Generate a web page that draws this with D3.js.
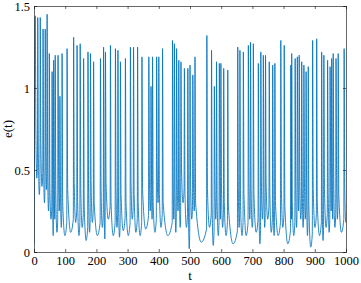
<!DOCTYPE html>
<html>
<head>
<meta charset="utf-8">
<script src="https://cdn.jsdelivr.net/npm/d3@7"></script>
<style>
  html, body { margin: 0; padding: 0; background: #fff; }
  #chart svg { display: block; }
  #chart text { font-family: "Liberation Serif", "DejaVu Serif", serif; }
</style>
</head>
<body>
<div id="chart"></div>
<script>
{
  // spike times and heights
  const peakT = [4, 12, 20, 29, 36, 42, 49, 58, 63, 68, 77, 83, 90, 106, 127, 138, 148, 159, 173, 181,
    191, 213, 223, 229, 245, 261, 269, 277, 293, 309, 319, 332, 346, 368, 375, 380, 393, 400, 412, 444,
    450, 457, 464, 471, 482, 493, 500, 509, 516, 554, 569, 578, 585, 594, 599, 608, 621, 653, 660, 671,
    687, 694, 703, 719, 727, 735, 742, 754, 765, 772, 791, 802, 823, 826, 837, 844, 850, 858, 865, 872,
    879, 893, 906, 922, 929, 941, 949, 954, 959, 968, 975, 994];
  const peakE = [1.44, 1.43, 1.43, 1.36, 1.36, 1.45, 1.21, 1.10, 1.17, 1.20, 1.20, 0.95, 1.21, 1.24, 1.31, 1.26, 1.27, 1.18, 1.22, 1.21,
    1.16, 1.18, 1.25, 1.22, 1.26, 1.24, 1.23, 1.16, 1.18, 1.25, 1.25, 1.25, 1.19, 1.19, 1.01, 1.19, 1.19, 1.19, 1.24, 1.29,
    1.27, 1.24, 1.17, 1.16, 1.12, 1.12, 1.14, 1.08, 1.19, 1.32, 1.23, 1.01, 1.16, 1.15, 1.15, 1.12, 1.11, 1.25, 1.23, 1.22,
    1.26, 1.28, 1.27, 1.15, 1.22, 1.20, 1.20, 1.16, 1.14, 1.15, 1.29, 1.26, 1.14, 1.21, 1.18, 1.19, 1.20, 1.16, 1.14, 1.10,
    1.13, 1.29, 1.30, 1.22, 1.20, 1.17, 1.13, 1.18, 1.21, 1.18, 1.21, 1.24];
  // level right after each spike falls
  const dipE = [0.75, 0.6, 0.65, 0.5, 0.55, 0.45, 0.38, 0.3, 0.42, 0.35, 0.45, 0.35, 0.3, 0.38, 0.42, 0.3, 0.38, 0.28, 0.35, 0.42,
    0.3, 0.38, 0.28, 0.42, 0.3, 0.38, 0.28, 0.35, 0.3, 0.42, 0.35, 0.3, 0.38, 0.45, 0.38, 0.3, 0.5, 0.35, 0.3, 0.42,
    0.35, 0.45, 0.38, 0.5, 0.35, 0.28, 0.42, 0.45, 0.3, 0.38, 0.28, 0.42, 0.3, 0.42, 0.38, 0.3, 0.28, 0.38, 0.3, 0.35,
    0.42, 0.38, 0.35, 0.28, 0.42, 0.38, 0.42, 0.35, 0.3, 0.3, 0.38, 0.28, 0.42, 0.3, 0.38, 0.45, 0.42, 0.38, 0.42, 0.3,
    0.28, 0.38, 0.3, 0.28, 0.38, 0.35, 0.45, 0.42, 0.38, 0.42, 0.35, 0.38];
  // trough reached before the next spike
  const lowE = [0.45, 0.35, 0.40, 0.30, 0.38, 0.25, 0.20, 0.10, 0.20, 0.12, 0.25, 0.15, 0.10, 0.12, 0.18, 0.10, 0.15, 0.07, 0.12, 0.18,
    0.10, 0.15, 0.08, 0.20, 0.10, 0.15, 0.09, 0.13, 0.10, 0.20, 0.12, 0.10, 0.14, 0.25, 0.20, 0.12, 0.30, 0.15, 0.10, 0.20,
    0.12, 0.25, 0.15, 0.30, 0.15, 0.02, 0.20, 0.25, 0.06, 0.15, 0.04, 0.20, 0.10, 0.20, 0.15, 0.10, 0.05, 0.15, 0.10, 0.10,
    0.20, 0.15, 0.12, 0.05, 0.20, 0.15, 0.20, 0.12, 0.10, 0.10, 0.15, 0.05, 0.20, 0.10, 0.15, 0.25, 0.20, 0.15, 0.20, 0.10,
    0.03, 0.15, 0.10, 0.07, 0.15, 0.12, 0.25, 0.20, 0.15, 0.20, 0.12, 0.18];

  const xTicks = [0, 100, 200, 300, 400, 500, 600, 700, 800, 900, 1000];
  const yTicks = [0, 0.5, 1, 1.5];

  const width = 361;
  const height = 283;
  const margin = { top: 6, right: 15, bottom: 31, left: 34 };

  const svg = d3.select("#chart").append("svg")
    .attr("width", width)
    .attr("height", height);

  const x = d3.scaleLinear().domain([0, 1000]).range([margin.left, width - margin.right]);
  const y = d3.scaleLinear().domain([0, 1.5]).range([height - margin.bottom, margin.top]);

  // vertices of the trace: for every spike a rise, peak, fall, U-shaped trough
  const pts = [[0, 0.05]];
  peakT.forEach((t, i) => {
    pts.push([t, peakE[i]]);
    pts.push([t + 2, dipE[i]]);
    const next = i < peakT.length - 1 ? peakT[i + 1] : 1003;
    pts.push([(t + 2 + next) / 2, lowE[i]]);
    pts.push([next - 1, lowE[i] + 0.08]);
  });

  svg.append("defs").append("clipPath").attr("id", "clip")
    .append("rect")
    .attr("x", x(0)).attr("y", y(1.5))
    .attr("width", x(1000) - x(0)).attr("height", y(0) - y(1.5));

  svg.append("path")
    .datum(pts)
    .attr("clip-path", "url(#clip)")
    .attr("fill", "none")
    .attr("stroke", "#0072BD")
    .attr("stroke-opacity", 0.85)
    .attr("stroke-width", 1)
    .attr("d", d3.line().x(d => x(d[0])).y(d => y(d[1])).curve(d3.curveMonotoneX));

  const axisColor = "#262626";

  const gx = svg.append("g")
    .attr("transform", `translate(0,${y(0)})`)
    .call(d3.axisBottom(x).tickValues(xTicks).tickSize(-3).tickPadding(4).tickFormat(d3.format("d")));
  const gxTop = svg.append("g")
    .attr("transform", `translate(0,${y(1.5)})`)
    .call(d3.axisTop(x).tickValues(xTicks).tickSize(-3).tickFormat(""));
  const gy = svg.append("g")
    .attr("transform", `translate(${x(0)},0)`)
    .call(d3.axisLeft(y).tickValues(yTicks).tickSize(-3).tickPadding(4).tickFormat(d3.format("")));
  const gyRight = svg.append("g")
    .attr("transform", `translate(${x(1000)},0)`)
    .call(d3.axisRight(y).tickValues(yTicks).tickSize(-3).tickFormat(""));

  [gx, gxTop, gy, gyRight].forEach(g => {
    g.attr("font-size", 12.5);
    g.selectAll("path, line").attr("stroke", axisColor).attr("stroke-width", 0.7);
    g.selectAll("text").attr("fill", "#000");
  });

  svg.append("text")
    .attr("x", (x(0) + x(1000)) / 2)
    .attr("y", 280)
    .attr("text-anchor", "middle")
    .attr("font-size", 13)
    .text("t");

  svg.append("text")
    .attr("transform", `translate(12,${(y(0) + y(1.5)) / 2}) rotate(-90)`)
    .attr("text-anchor", "middle")
    .attr("font-size", 13)
    .text("e(t)");
}
</script>
</body>
</html>
